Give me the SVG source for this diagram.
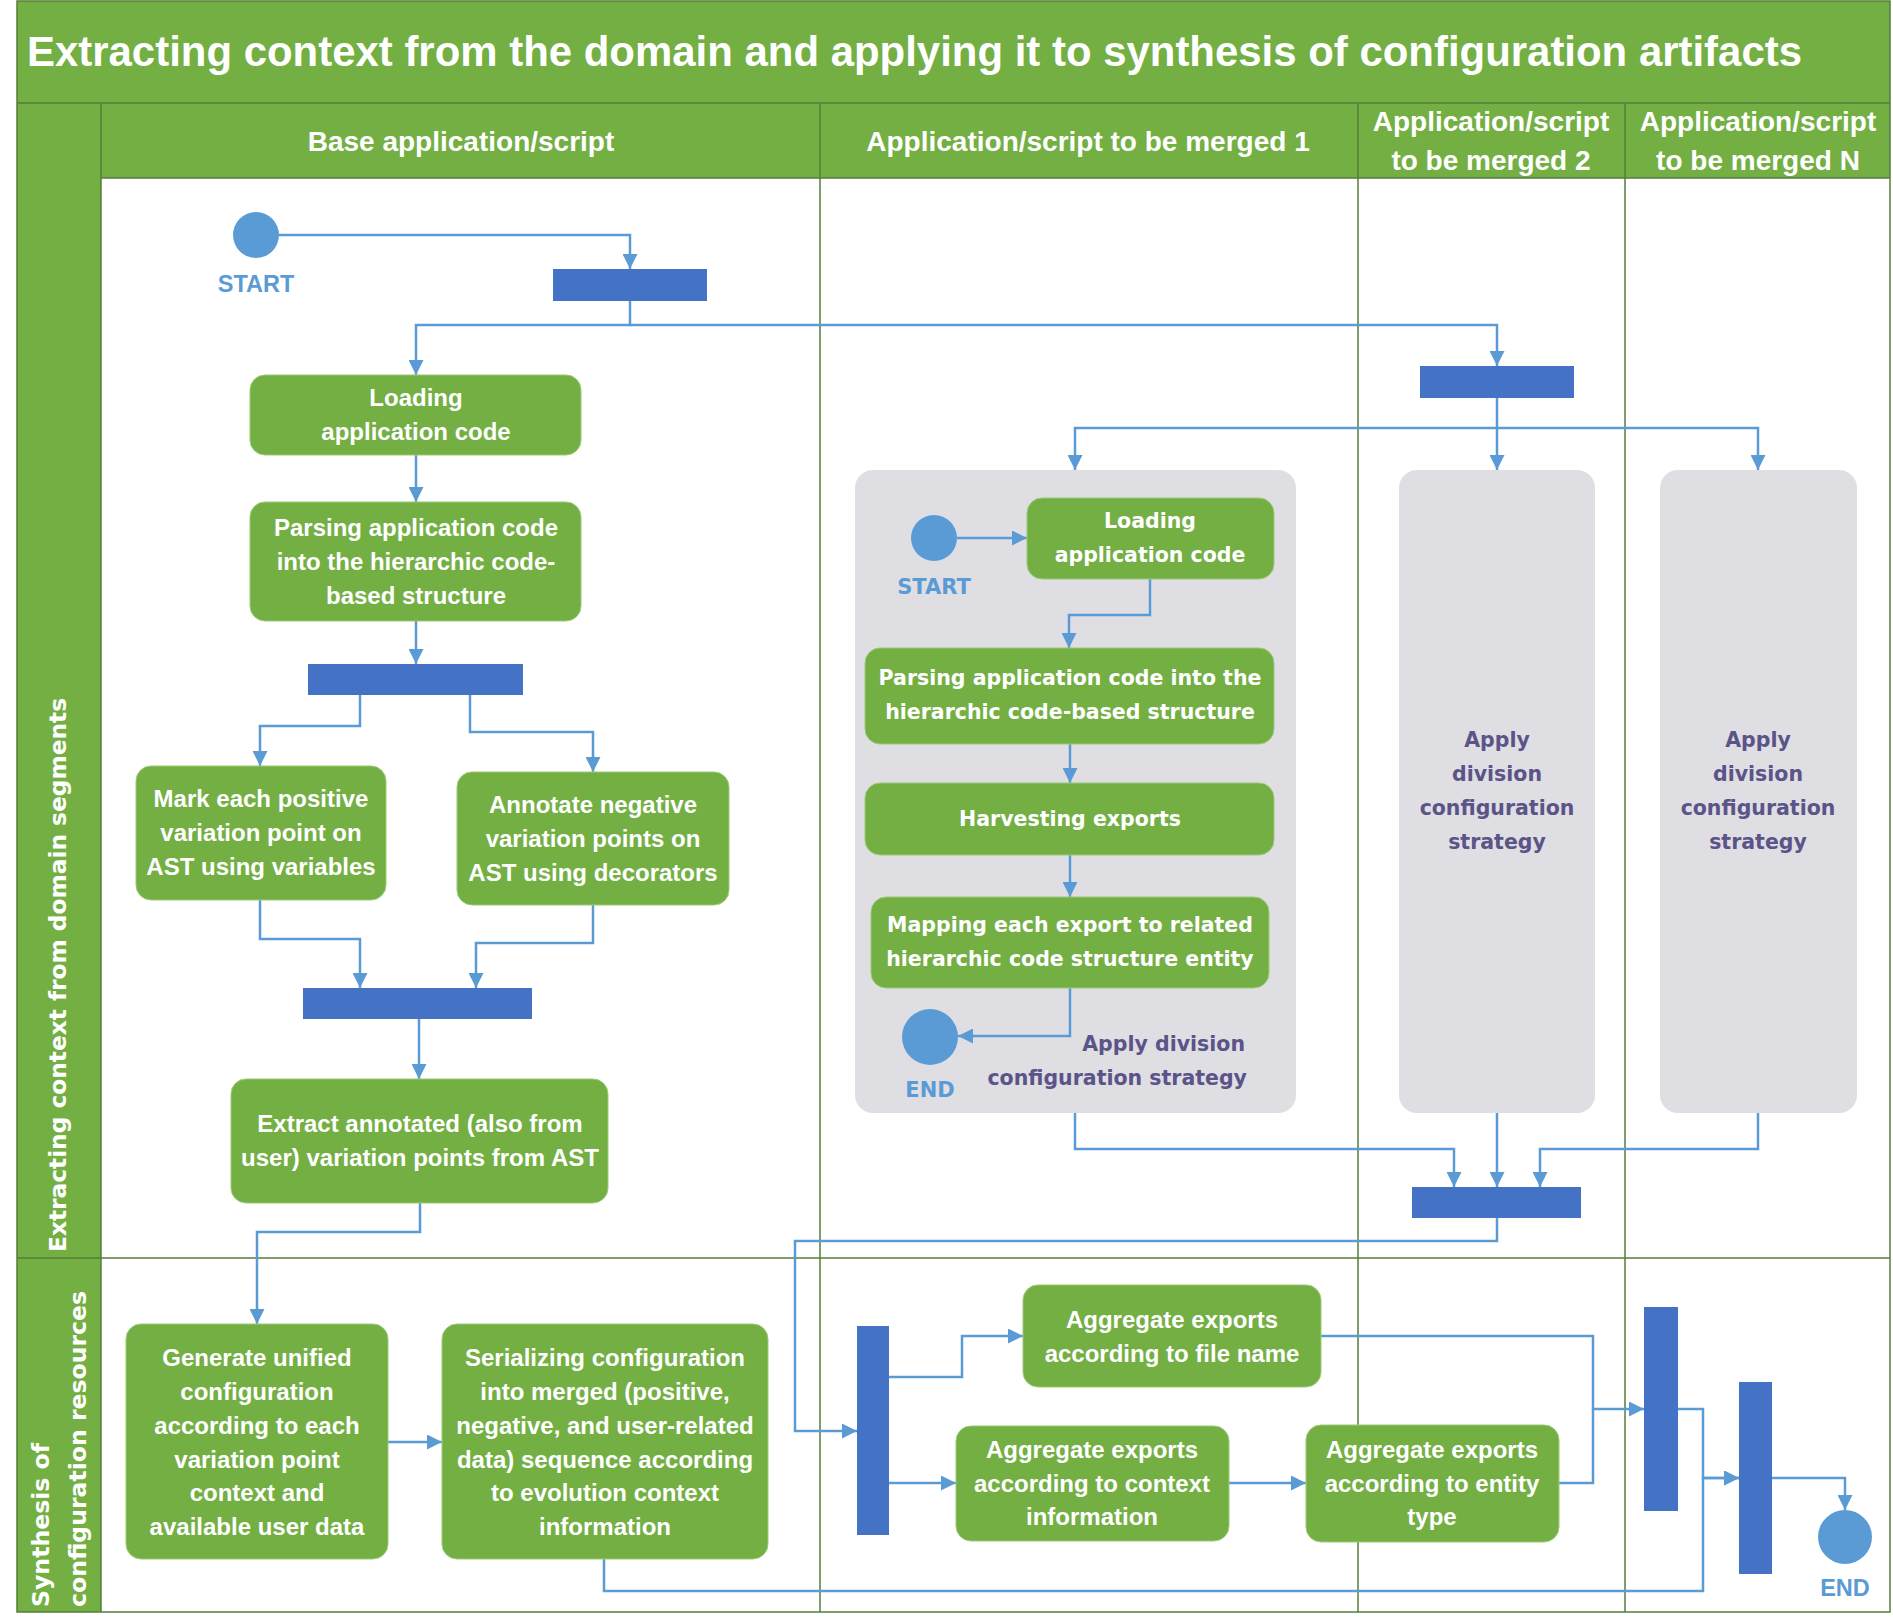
<svg xmlns="http://www.w3.org/2000/svg" width="1893" height="1617" viewBox="0 0 1893 1617">
<style>
.bg{fill:#ffffff}
.green{fill:#74AF44}
.lane{stroke:#557E37;stroke-width:1.5;fill:none}
.box{fill:#74AF44;stroke:#9CCB78;stroke-width:1}
.gray{fill:#DFDEE3}
.bar{fill:#4472C4}
.circ{fill:#5B9BD5}
.conn{fill:none;stroke:#5B9BD5;stroke-width:2.5}
.t1{font-family:"Liberation Sans",Arial,sans-serif;font-weight:bold;font-size:24px;fill:#ffffff;text-anchor:middle}
.t2{font-family:"DejaVu Sans",Verdana,sans-serif;font-weight:bold;font-size:20.5px;fill:#ffffff;text-anchor:middle}
.tp{font-family:"DejaVu Sans",Verdana,sans-serif;font-weight:bold;font-size:20.5px;fill:#5A5488;text-anchor:middle}
.hd{font-family:"Liberation Sans",Arial,sans-serif;font-weight:bold;font-size:28px;fill:#ffffff;text-anchor:middle}
.lb1{font-family:"Liberation Sans",Arial,sans-serif;font-weight:bold;font-size:23.5px;fill:#5B9BD5;text-anchor:middle}
.lb2{font-family:"DejaVu Sans",Verdana,sans-serif;font-weight:bold;font-size:21px;fill:#5B9BD5;text-anchor:middle}
.vt{font-family:"DejaVu Sans",Verdana,sans-serif;font-weight:bold;font-size:23px;fill:#ffffff}
</style>
<defs>
<marker id="arr" viewBox="0 0 10 10" refX="10" refY="5" markerUnits="userSpaceOnUse" markerWidth="15" markerHeight="15" orient="auto">
<path d="M0,0 L10,5 L0,10 z" fill="#5B9BD5"/>
</marker>
</defs>
<rect class="bg" x="0" y="0" width="1893" height="1617"/>
<g id="swimlanes">
<rect class="green" x="17" y="1" width="1873" height="102"/>
<rect class="green" x="17" y="103" width="1873" height="75"/>
<rect class="green" x="17" y="103" width="84" height="1509"/>
<text x="27" y="66" font-family="Liberation Sans,Arial,sans-serif" font-weight="bold" font-size="42" fill="#ffffff" textLength="1775" lengthAdjust="spacingAndGlyphs">Extracting context from the domain and applying it to synthesis of configuration artifacts</text>
<text class="hd" x="461" y="151">Base application/script</text>
<text class="hd" x="1088" y="151">Application/script to be merged 1</text>
<text class="hd" x="1491" y="131">Application/script</text>
<text class="hd" x="1491" y="170">to be merged 2</text>
<text class="hd" x="1758" y="131">Application/script</text>
<text class="hd" x="1758" y="170">to be merged N</text>
<text class="vt" transform="translate(66,1252) rotate(-90)" textLength="554" lengthAdjust="spacingAndGlyphs">Extracting context from domain segments</text>
<text class="vt" transform="translate(49,1607) rotate(-90)" textLength="164" lengthAdjust="spacingAndGlyphs">Synthesis of</text>
<text class="vt" transform="translate(86,1607) rotate(-90)" textLength="316" lengthAdjust="spacingAndGlyphs">configuration resources</text>
<rect class="lane" x="17" y="1" width="1873" height="1611"/>
<line class="lane" x1="17" y1="103" x2="1890" y2="103"/>
<line class="lane" x1="101" y1="178" x2="1890" y2="178"/>
<line class="lane" x1="101" y1="103" x2="101" y2="1612"/>
<line class="lane" x1="820" y1="103" x2="820" y2="1612"/>
<line class="lane" x1="1358" y1="103" x2="1358" y2="1612"/>
<line class="lane" x1="1625" y1="103" x2="1625" y2="1612"/>
<line class="lane" x1="17" y1="1258" x2="1890" y2="1258"/>
</g>
<g id="containers">
<rect class="gray" x="855" y="470" width="441" height="643" rx="18"/>
<g id="gray-merged2"><rect class="gray" x="1399" y="470" width="196" height="643" rx="18"/>
<text class="tp" x="1497" y="747">Apply</text><text class="tp" x="1497" y="781">division</text><text class="tp" x="1497" y="815">configuration</text><text class="tp" x="1497" y="849">strategy</text></g>
<g id="gray-mergedN"><rect class="gray" x="1660" y="470" width="197" height="643" rx="18"/>
<text class="tp" x="1758" y="747">Apply</text><text class="tp" x="1758" y="781">division</text><text class="tp" x="1758" y="815">configuration</text><text class="tp" x="1758" y="849">strategy</text></g>
</g>
<g id="connectors">
<path class="conn" d="M279,235 H630 V269" marker-end="url(#arr)"/>
<path class="conn" d="M630,301 V325 H416 V375" marker-end="url(#arr)"/>
<path class="conn" d="M630,325 H1497 V366" marker-end="url(#arr)"/>
<path class="conn" d="M416,455 V502" marker-end="url(#arr)"/>
<path class="conn" d="M416,621 V664" marker-end="url(#arr)"/>
<path class="conn" d="M360,695 V726 H260 V766" marker-end="url(#arr)"/>
<path class="conn" d="M470,695 V732 H593 V772" marker-end="url(#arr)"/>
<path class="conn" d="M260,900 V939 H360 V988" marker-end="url(#arr)"/>
<path class="conn" d="M593,905 V943 H476 V988" marker-end="url(#arr)"/>
<path class="conn" d="M419,1019 V1079" marker-end="url(#arr)"/>
<path class="conn" d="M420,1203 V1232 H257 V1324" marker-end="url(#arr)"/>
<path class="conn" d="M388,1442 H442" marker-end="url(#arr)"/>
<path class="conn" d="M604,1559 V1591 H1703 V1478 H1739" marker-end="url(#arr)"/>
<path class="conn" d="M1497,398 V470" marker-end="url(#arr)"/>
<path class="conn" d="M1497,428 H1075 V470" marker-end="url(#arr)"/>
<path class="conn" d="M1497,428 H1758 V470" marker-end="url(#arr)"/>
<path class="conn" d="M957,538 H1027" marker-end="url(#arr)"/>
<path class="conn" d="M1150,579 V615 H1069 V648" marker-end="url(#arr)"/>
<path class="conn" d="M1070,744 V783" marker-end="url(#arr)"/>
<path class="conn" d="M1070,855 V897" marker-end="url(#arr)"/>
<path class="conn" d="M1070,988 V1036 H958" marker-end="url(#arr)"/>
<path class="conn" d="M1075,1113 V1149 H1454 V1187" marker-end="url(#arr)"/>
<path class="conn" d="M1497,1113 V1187" marker-end="url(#arr)"/>
<path class="conn" d="M1758,1113 V1149 H1540 V1187" marker-end="url(#arr)"/>
<path class="conn" d="M1497,1218 V1241 H795 V1431 H857" marker-end="url(#arr)"/>
<path class="conn" d="M889,1377 H962 V1336 H1023" marker-end="url(#arr)"/>
<path class="conn" d="M889,1483 H956" marker-end="url(#arr)"/>
<path class="conn" d="M1229,1483 H1306" marker-end="url(#arr)"/>
<path class="conn" d="M1321,1336 H1593 V1409 H1644" marker-end="url(#arr)"/>
<path class="conn" d="M1559,1483 H1593 V1409"/>
<path class="conn" d="M1678,1409 H1703 V1478 H1739" marker-end="url(#arr)"/>
<path class="conn" d="M1772,1478 H1845 V1510" marker-end="url(#arr)"/>
</g>
<g id="start1"><circle class="circ" cx="256" cy="235" r="23"/><text class="lb1" x="256" y="292">START</text></g>
<g id="bar-fork1"><rect class="bar" x="553" y="269" width="154" height="32"/></g>
<g id="load1"><rect class="box" x="250" y="375" width="331" height="80" rx="15"/>
<text class="t1" x="416" y="406">Loading</text><text class="t1" x="416" y="440">application code</text></g>
<g id="parse1"><rect class="box" x="250" y="502" width="331" height="119" rx="15"/>
<text class="t1" x="416" y="536">Parsing application code</text><text class="t1" x="416" y="570">into the hierarchic code-</text><text class="t1" x="416" y="604">based structure</text></g>
<g id="bar-fork2"><rect class="bar" x="308" y="664" width="215" height="31"/></g>
<g id="mark"><rect class="box" x="136" y="766" width="250" height="134" rx="15"/>
<text class="t1" x="261" y="807">Mark each positive</text><text class="t1" x="261" y="841">variation point on</text><text class="t1" x="261" y="875">AST using variables</text></g>
<g id="annotate"><rect class="box" x="457" y="772" width="272" height="133" rx="15"/>
<text class="t1" x="593" y="813">Annotate negative</text><text class="t1" x="593" y="847">variation points on</text><text class="t1" x="593" y="881">AST using decorators</text></g>
<g id="bar-join1"><rect class="bar" x="303" y="988" width="229" height="31"/></g>
<g id="extract"><rect class="box" x="231" y="1079" width="377" height="124" rx="15"/>
<text class="t1" x="420" y="1132">Extract annotated (also from</text><text class="t1" x="420" y="1166">user) variation points from AST</text></g>
<g id="generate"><rect class="box" x="126" y="1324" width="262" height="235" rx="15"/>
<text class="t1" x="257" y="1366">Generate unified</text><text class="t1" x="257" y="1400">configuration</text><text class="t1" x="257" y="1434">according to each</text><text class="t1" x="257" y="1468">variation point</text><text class="t1" x="257" y="1501">context and</text><text class="t1" x="257" y="1535">available user data</text></g>
<g id="serialize"><rect class="box" x="442" y="1324" width="326" height="235" rx="15"/>
<text class="t1" x="605" y="1366">Serializing configuration</text><text class="t1" x="605" y="1400">into merged (positive,</text><text class="t1" x="605" y="1434">negative, and user-related</text><text class="t1" x="605" y="1468">data) sequence according</text><text class="t1" x="605" y="1501">to evolution context</text><text class="t1" x="605" y="1535">information</text></g>
<g id="bar-fork3"><rect class="bar" x="1420" y="366" width="154" height="32"/></g>
<g id="start2"><circle class="circ" cx="934" cy="538" r="23"/><text class="lb2" x="934" y="594">START</text></g>
<g id="load2"><rect class="box" x="1027" y="498" width="247" height="81" rx="15"/>
<text class="t2" x="1150" y="528">Loading</text><text class="t2" x="1150" y="562">application code</text></g>
<g id="parse2"><rect class="box" x="865" y="648" width="409" height="96" rx="15"/>
<text class="t2" x="1070" y="685">Parsing application code into the</text><text class="t2" x="1070" y="719">hierarchic code-based structure</text></g>
<g id="harvest"><rect class="box" x="865" y="783" width="409" height="72" rx="15"/>
<text class="t2" x="1070" y="826">Harvesting exports</text></g>
<g id="mapping"><rect class="box" x="871" y="897" width="398" height="91" rx="15"/>
<text class="t2" x="1070" y="932">Mapping each export to related</text><text class="t2" x="1070" y="966">hierarchic code structure entity</text></g>
<g id="end2"><circle class="circ" cx="930" cy="1037" r="28"/><text class="lb2" x="930" y="1097">END</text></g>
<g id="label-apply"><text class="tp" x="1245" y="1051" style="text-anchor:end">Apply division</text><text class="tp" x="1247" y="1085" style="text-anchor:end">configuration strategy</text></g>
<g id="bar-join2"><rect class="bar" x="1412" y="1187" width="169" height="31"/></g>
<g id="bar-fork4"><rect class="bar" x="857" y="1326" width="32" height="209"/></g>
<g id="agg-file"><rect class="box" x="1023" y="1285" width="298" height="102" rx="15"/>
<text class="t1" x="1172" y="1328">Aggregate exports</text><text class="t1" x="1172" y="1362">according to file name</text></g>
<g id="agg-context"><rect class="box" x="956" y="1426" width="273" height="115" rx="15"/>
<text class="t1" x="1092" y="1458">Aggregate exports</text><text class="t1" x="1092" y="1492">according to context</text><text class="t1" x="1092" y="1525">information</text></g>
<g id="agg-entity"><rect class="box" x="1306" y="1425" width="253" height="117" rx="15"/>
<text class="t1" x="1432" y="1458">Aggregate exports</text><text class="t1" x="1432" y="1492">according to entity</text><text class="t1" x="1432" y="1525">type</text></g>
<g id="bar-join3"><rect class="bar" x="1644" y="1307" width="34" height="204"/></g>
<g id="bar-join4"><rect class="bar" x="1739" y="1382" width="33" height="192"/></g>
<g id="end1"><circle class="circ" cx="1845" cy="1537" r="27"/><text class="lb1" x="1845" y="1596">END</text></g>
</svg>
